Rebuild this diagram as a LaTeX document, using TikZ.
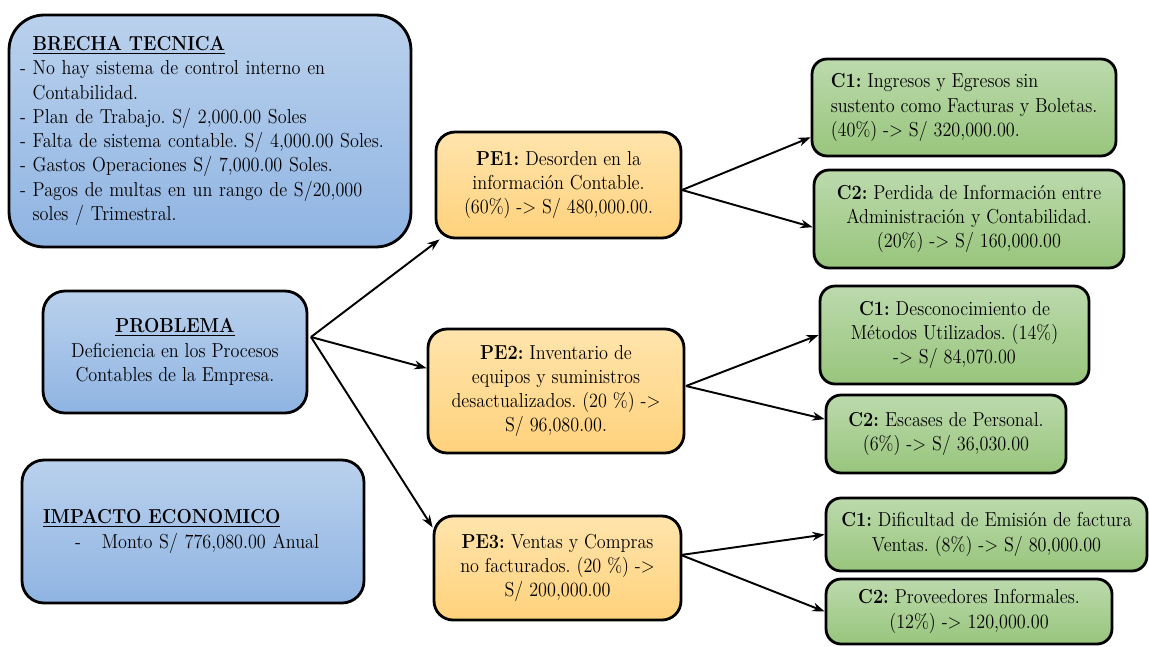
\documentclass[tikz,border=0pt]{standalone}
\usepackage{fontspec}
\setmainfont{Latin Modern Roman}[FakeStretch=0.9]
\usetikzlibrary{arrows.meta}
\definecolor{bluetop}{HTML}{BAD1ED}
\definecolor{bluebot}{HTML}{8FB4E2}
\definecolor{oratop}{HTML}{FFE4AC}
\definecolor{orabot}{HTML}{FFD27C}
\definecolor{gretop}{HTML}{BCDAAD}
\definecolor{grebot}{HTML}{98C57C}

\begin{document}
\frenchspacing
\begin{tikzpicture}[x=0.02cm,y=-0.02cm,
	box/.style={draw=black, line width=1.6pt, inner sep=0pt,
		font=\fontsize{11.5}{13.8}\selectfont},
	bluebox/.style={box, top color=bluetop, bottom color=bluebot, rounded corners=0.44cm},
	pebox/.style={box, top color=oratop, bottom color=orabot, rounded corners=0.38cm, align=center},
	causebox/.style={box, top color=gretop, bottom color=grebot, rounded corners=0.3cm, align=center},
	conn/.style={-{Stealth[length=7pt,width=5pt]}, line width=1.1pt}]
	\useasboundingbox (0,0) rectangle (1149,646);

	% left column
	\node[bluebox, rounded corners=0.7cm, minimum width=8.04cm, minimum height=4.64cm,
		text width=7.6cm, align=left] (brecha) at (210,131)
		{\hphantom{- }\underline{\textbf{BRECHA TECNICA}}\\
		- No hay sistema de control interno en\\
		\hphantom{- }Contabilidad.\\
		- Plan de Trabajo. S/ 2,000.00 Soles\\
		- Falta de sistema contable. S/ 4,000.00 Soles.\\
		- Gastos Operaciones S/ 7,000.00 Soles.\\
		- Pagos de multas en un rango de S/20,000\\
		\hphantom{- }soles / Trimestral.};
	\node[bluebox, minimum width=5.28cm, minimum height=2.44cm, align=center] (prob) at (175,352)
		{\underline{\textbf{PROBLEMA}}\\ Deficiencia en los Procesos\\ Contables de la Empresa.};
	\node[bluebox, minimum width=6.84cm, minimum height=2.86cm, text width=6cm, align=left] (impacto) at (193,531.5)
		{\underline{\textbf{IMPACTO ECONOMICO}}\\
		\hspace*{0.64cm}-\hspace{0.42cm}Monto S/ 776,080.00 Anual};

	% problemas especificos
	\node[pebox, minimum width=4.9cm, minimum height=2.12cm] (pe1) at (558.5,185)
		{\textbf{PE1:} Desorden en la\\ información Contable.\\ (60\%) -> S/ 480,000.00.};
	\node[pebox, minimum width=5.12cm, minimum height=2.48cm] (pe2) at (556,391)
		{\textbf{PE2:} Inventario de\\ equipos y suministros\\ desactualizados. (20 \%) ->\\ S/ 96,080.00.};
	\node[pebox, minimum width=4.94cm, minimum height=2.08cm] (pe3) at (557.5,568)
		{\textbf{PE3:} Ventas y Compras\\ no facturados. (20 \%) ->\\ S/ 200,000.00};

	% causas
	\node[causebox, minimum width=6.08cm, minimum height=1.94cm, align=left] (c1a) at (964,107.5)
		{\textbf{C1:} Ingresos y Egresos sin\\ sustento como Facturas y Boletas.\\ (40\%) -> S/ 320,000.00.};
	\node[causebox, minimum width=6.2cm, minimum height=1.96cm] (c2a) at (969,219)
		{\textbf{C2:} Perdida de Información entre\\ Administración y Contabilidad.\\ (20\%) -> S/ 160,000.00};
	\node[causebox, minimum width=5.38cm, minimum height=1.96cm] (c1b) at (954.5,335)
		{\textbf{C1:} Desconocimiento de\\ Métodos Utilizados. (14\%)\\ -> S/ 84,070.00};
	\node[causebox, minimum width=4.8cm, minimum height=1.56cm] (c2b) at (946,434)
		{\textbf{C2:} Escases de Personal.\\ (6\%) -> S/ 36,030.00};
	\node[causebox, minimum width=6.42cm, minimum height=1.46cm] (c1c) at (986.5,534.5)
		{\textbf{C1:} Dificultad de Emisión de factura\\ Ventas. (8\%) -> S/ 80,000.00};
	\node[causebox, minimum width=5.72cm, minimum height=1.3cm] (c2c) at (969,611.5)
		{\textbf{C2:} Proveedores Informales.\\ (12\%) -> 120,000.00};

	% conectores
	\coordinate (f0) at (311,337);
	\coordinate (f1) at (682,190);
	\coordinate (f2) at (686,386);
	\coordinate (f3) at (681,555);
	\draw[conn] (f0) -- ([xshift=0.1cm]pe1.south west);
	\draw[conn] (f0) -- (pe2.170);
	\draw[conn] (f0) -- (pe3.162);
	\draw[conn] (f1) -- (c1a.191);
	\draw[conn] (f1) -- (c2a.183);
	\draw[conn] (f2) -- (c1b.west);
	\draw[conn] (f2) -- (c2b.173);
	\draw[conn] (f3) -- (c1c.west);
	\draw[conn] (f3) -- (c2c.west);
\end{tikzpicture}
\end{document}
